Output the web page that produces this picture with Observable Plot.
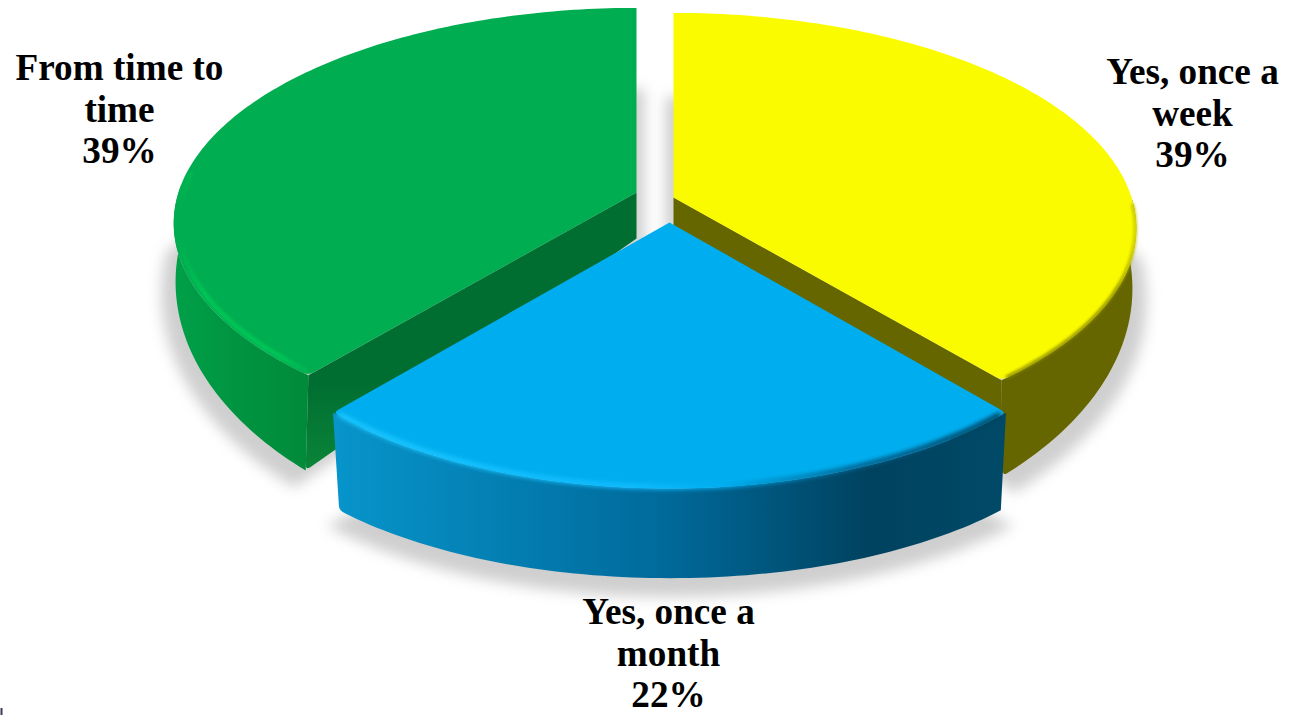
<!DOCTYPE html>
<html>
<head>
<meta charset="utf-8">
<script src="https://cdn.jsdelivr.net/npm/d3@7"></script>
<script src="https://cdn.jsdelivr.net/npm/@observablehq/plot@0.6"></script>
<style>
html,body{margin:0;padding:0;background:#fff;overflow:hidden}
svg{display:block}
</style>
</head>
<body>
<div id="chart"></div>
<script>
const categories = ["Yes, once a week", "Yes, once a month", "From time to time"];
const labelLines = ["Yes, once a\nweek", "Yes, once a\nmonth", "From time to\ntime"];
const shares = [39, 22, 39];

// Perspective disc for each slice: t = top face, b = bottom face
const view = [
  {t:{cx:673,cy:197,rx:458,ry:211,k:.143}, b:{cx:673,cy:245,rx:453,ry:262,k:.16}, side:[90,140.4], top:"#fbfb00", sideFill:"#666600", wall:"#666600", rim:"url(#rimY)", rimW:3, rimB:1.5, shadowDx:-8, lx:1192, ly:112},
  {t:{cx:669,cy:222,rx:425,ry:198.7,k:.253}, b:{cx:669.5,cy:339,rx:419,ry:179,k:.25}, side:[140.4,219.6], top:"#00aeef", sideFill:"url(#sideB)", wall:"#00aeef", rim:"url(#rimB)", rimW:5, rimB:2, shadowDx:0, lx:668, ly:652},
  {t:{cx:636,cy:192,rx:458,ry:211,k:.143}, b:{cx:636,cy:238,rx:455,ry:264,k:.16}, side:[219.6,272], top:"#00ad50", sideFill:"url(#sideG)", wall:"url(#wallG)", rim:"url(#rimG)", rimW:5, rimB:1.5, shadowDx:8, lx:119, ly:108}
];

const total = d3.sum(shares);
let acc = 0;
const slices = shares.map((v,i)=>{const a0=acc/total*360; acc+=v; return {...view[i],a0,a1:acc/total*360,i};});

const rad = d=>d*Math.PI/180;
function proj(p,deg,r=1,sy=1){
  const X=Math.sin(rad(deg))*r, Y=-Math.cos(rad(deg))*r, f=1/(1-p.k*Y);
  const dy=p.ry*Y*f;
  return {x:p.cx+p.rx*X*f, y:p.cy+dy*(dy<0?sy:1)};
}
function arc(p,a,b,r,sy){
  const n=Math.max(2,Math.ceil(Math.abs(b-a)));
  return d3.range(n+1).map(j=>proj(p,a+(b-a)*j/n,r,sy));
}
// Softens sharp vertices of a closed outline (the bevelled corners of the slices)
function rounded(pts,radius,skip){
  const out=[], n=pts.length;
  pts.forEach((p,i)=>{
    const a=pts[(i+n-1)%n], b=pts[(i+1)%n];
    const ux=a.x-p.x, uy=a.y-p.y, vx=b.x-p.x, vy=b.y-p.y;
    const lu=Math.hypot(ux,uy), lv=Math.hypot(vx,vy);
    const cos=(ux*vx+uy*vy)/(lu*lv);
    if(skip.includes(i)||cos<-.85){out.push(p);return;}
    const ru=Math.min(radius,lu*.9), rv=Math.min(radius,lv*.9);
    const s={x:p.x+ux/lu*ru,y:p.y+uy/lu*ru}, e={x:p.x+vx/lv*rv,y:p.y+vy/lv*rv};
    for(let t=0;t<=1.001;t+=.2){
      out.push({x:(1-t)*(1-t)*s.x+2*t*(1-t)*p.x+t*t*e.x,y:(1-t)*(1-t)*s.y+2*t*(1-t)*p.y+t*t*e.y});
    }
  });
  return out;
}
function face(s){
  const pts=[{x:s.t.cx,y:s.t.cy},...arc(s.t,s.a0,s.a1)];
  const skip=[0];
  if(s.i===0) skip.push(1);
  if(s.i===2) skip.push(pts.length-1);
  return rounded(pts,6,skip);
}
function sideWall(s){
  const top=arc(s.t,s.side[0],s.side[1]), bot=arc(s.b,s.side[1],s.side[0]);
  return rounded([...top,...bot],5,[0,top.length-1,top.length+bot.length-1]);
}
function shadow(s){
  const pts=[{x:s.b.cx,y:s.b.cy},...arc(s.b,s.a0,s.a1,1.03,.68)];
  return pts.map(q=>({x:q.x+(q.y<=s.b.cy?s.shadowDx:0),y:q.y+9}));
}
function innerWall(s){ // radial cut that stays visible beside the blue slice
  const a = s.i===0 ? s.a1 : s.a0;
  const q1=proj(s.t,a), q2=proj(s.b,a);
  return rounded([{x:s.t.cx,y:s.t.cy},q1,q2,{x:s.b.cx,y:s.b.cy}],6,[0,1,3]);
}
function rim(s){
  if(s.i===2) return arc(s.t,s.a0+1,275,.99);
  if(s.i===0) return arc(s.t,92,s.a1-1,.998);
  return arc(s.t,s.a0+1,s.a1-1,.996);
}

const poly=(pts,o)=>Plot.line(pts,{x:"x",y:"y",curve:"linear-closed",stroke:"none",...o});

const gradients=[
  {id:"sideB",stops:[[0,"#0795cb"],[.5,"#00699a"],[.8,"#00425f"],[1,"#004a68"]]},
  {id:"sideG",stops:[[0,"#00a048"],[.5,"#009340"],[1,"#008a3a"]]},
  {id:"wallG",vertical:true,stops:[[0,"#006d31"],[.68,"#006d31"],[1,"#0a8539"]]},
  {id:"rimB",stops:[[0,"#1cc8ff"],[.45,"#12bcff"],[.58,"#00aeef"],[.78,"#02618c"],[1,"#003f5c"]]},
  {id:"rimG",stops:[[0,"#00ad50"],[.2,"#00c556"],[.8,"#00c556"],[1,"#00b552"]]},
  {id:"rimY",stops:[[0,"#8a8a00"],[.85,"#8a8a00"],[1,"#c8c800"]]}
];
const defs=()=>{
  const d=d3.create("svg:defs");
  const g=d.selectAll("linearGradient").data(gradients).join("linearGradient").attr("id",e=>e.id)
    .attr("x2",e=>e.vertical?"0":"1").attr("y2",e=>e.vertical?"1":"0");
  g.selectAll("stop").data(e=>e.stops).join("stop").attr("offset",e=>e[0]).attr("stop-color",e=>e[1]);
  return d.node();
};

const marks=[defs];
slices.forEach(s=>marks.push(poly(shadow(s),{fill:"#cfcfcf",imageFilter:"blur(7px)"})));
[slices[2],slices[0],slices[1]].forEach(s=>{
  if(s.i!==1) marks.push(poly(innerWall(s),{fill:s.wall}));
  marks.push(poly(sideWall(s),{fill:s.sideFill}));
  marks.push(poly(face(s),{fill:s.top}));
  marks.push(Plot.line(rim(s),{x:"x",y:"y",stroke:s.rim,strokeWidth:s.rimW,imageFilter:`blur(${s.rimB}px)`}));
});
marks.push(Plot.text(slices,{
  x:"lx",y:"ly",
  text:s=>`${labelLines[s.i]}\n${shares[s.i]}%`,
  fontFamily:"Liberation Serif",fontWeight:"bold",fontSize:37.2,lineHeight:1.12,
  textAnchor:"middle",fill:"#000"
}));
marks.push(Plot.ruleX([1],{y1:708,y2:715,stroke:"#3a3a50",strokeWidth:2}));

document.getElementById("chart").append(Plot.plot({
  width:1299,height:715,margin:0,
  style:{background:"#fff"},
  x:{domain:[0,1299],range:[0,1299],axis:null},
  y:{domain:[0,715],range:[0,715],axis:null},
  marks
}));
</script>
</body>
</html>
